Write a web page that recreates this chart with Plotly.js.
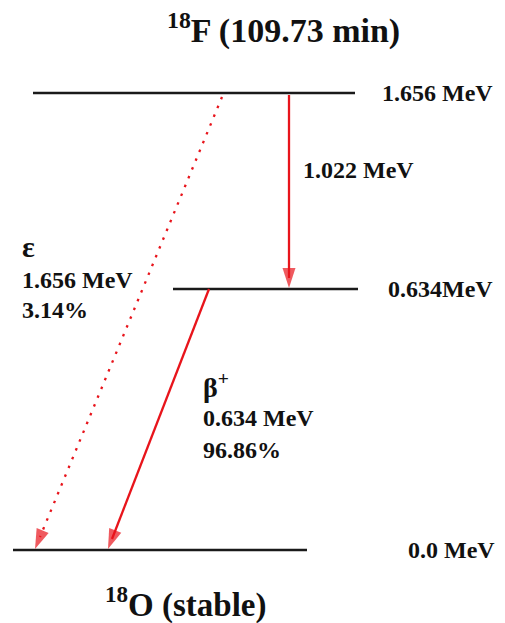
<!DOCTYPE html>
<html><head><meta charset="utf-8">
<script src="https://cdn.plot.ly/plotly-3.0.1.min.js"></script>
<style>html,body{margin:0;padding:0;background:#fff}#c{width:505px;height:623px}</style>
</head><body><div id="c"></div>
<script>
// Data
const parentNuclide = "<sup>18</sup>F (109.73 min)";
const daughterNuclide = "<sup>18</sup>O (stable)";
const levelEnergies = [1.656, 0.634, 0.0];
const levelLabels = ["1.656 MeV", "0.634MeV", "0.0 MeV"];
const gammaEnergy = ["1.022 MeV"];
const decayModes = ["ε", "β<sup>+</sup>"];
const decayEnergies = ["1.656 MeV", "0.634 MeV"];
const branchPercents = ["3.14%", "96.86%"];

// Layout geometry (diagram not to scale)
const levelY = [93, 289, 550];
const levelX = [[33, 355], [173, 358], [13, 307]];
const labelX = [380, 386, 406];
const red = "#e8141b";
const font = {family: "Liberation Serif, Times New Roman, serif", color: "#111", size: 24};

const traces = [];
levelY.forEach((y, i) => {
  traces.push({x: levelX[i], y: [y, y], mode: "lines", line: {color: "#1a1a1a", width: 2.6}, hoverinfo: "skip"});
});
// transitions
const ecLine = {x0: 222, y0: 97, x1: 35, y1: 549};
const betaLine = {x0: 209, y0: 289, x1: 108, y1: 549};
const gLine = {x0: 289, y0: 95, x1: 289, y1: 288};
traces.push({x: [ecLine.x0, ecLine.x1 + 5], y: [ecLine.y0, ecLine.y1 - 12], mode: "lines", line: {color: red, width: 2.3, dash: "2.5px,7px"}, hoverinfo: "skip"});
traces.push({x: [betaLine.x0, betaLine.x1 + 4], y: [betaLine.y0, betaLine.y1 - 10], mode: "lines", line: {color: red, width: 2.3}, hoverinfo: "skip"});
traces.push({x: [gLine.x0, gLine.x1], y: [gLine.y0, gLine.y1 - 10], mode: "lines", line: {color: red, width: 2.3}, hoverinfo: "skip"});

function head(l) {
  const dx = l.x1 - l.x0, dy = l.y1 - l.y0, len = Math.hypot(dx, dy);
  return {x: [l.x1 - dx / len * 20, l.x1], y: [l.y1 - dy / len * 20, l.y1], mode: "markers",
    marker: {symbol: "arrow", size: [0, 21], angleref: "previous", color: red, line: {width: 0}}, hoverinfo: "skip"};
}
[ecLine, betaLine, gLine].forEach(l => traces.push(head(l)));
const ann = [];
levelLabels.forEach((t, i) => ann.push({x: labelX[i], y: levelY[i], text: "<b>" + t + "</b>", xanchor: "left", yanchor: "middle", showarrow: false, font: font}));
ann.push({x: 283, y: 28, text: "<b>" + parentNuclide + "</b>", showarrow: false, font: Object.assign({}, font, {size: 34})});
ann.push({x: 186, y: 602, text: "<b>" + daughterNuclide + "</b>", showarrow: false, font: Object.assign({}, font, {size: 33})});
ann.push({x: 301, y: 170, text: "<b>" + gammaEnergy[0] + "</b>", xanchor: "left", showarrow: false, font: font});
ann.push({x: 20, y: 246, text: "<b>" + decayModes[0] + "</b>", xanchor: "left", showarrow: false, font: Object.assign({}, font, {size: 30})});
ann.push({x: 20, y: 280, text: "<b>" + decayEnergies[0] + "</b>", xanchor: "left", showarrow: false, font: font});
ann.push({x: 20, y: 310, text: "<b>" + branchPercents[0] + "</b>", xanchor: "left", showarrow: false, font: font});
ann.push({x: 201, y: 385, text: "<b>" + decayModes[1] + "</b>", xanchor: "left", showarrow: false, font: Object.assign({}, font, {size: 28})});
ann.push({x: 201, y: 418, text: "<b>" + decayEnergies[1] + "</b>", xanchor: "left", showarrow: false, font: font});
ann.push({x: 201, y: 450, text: "<b>" + branchPercents[1] + "</b>", xanchor: "left", showarrow: false, font: font});

Plotly.newPlot("c", traces, {
  width: 505, height: 623, margin: {l: 0, r: 0, t: 0, b: 0},
  paper_bgcolor: "#fff", plot_bgcolor: "#fff", showlegend: false,
  xaxis: {range: [0, 505], visible: false, fixedrange: true},
  yaxis: {range: [623, 0], visible: false, fixedrange: true},
  annotations: ann
}, {staticPlot: true});
</script></body></html>
